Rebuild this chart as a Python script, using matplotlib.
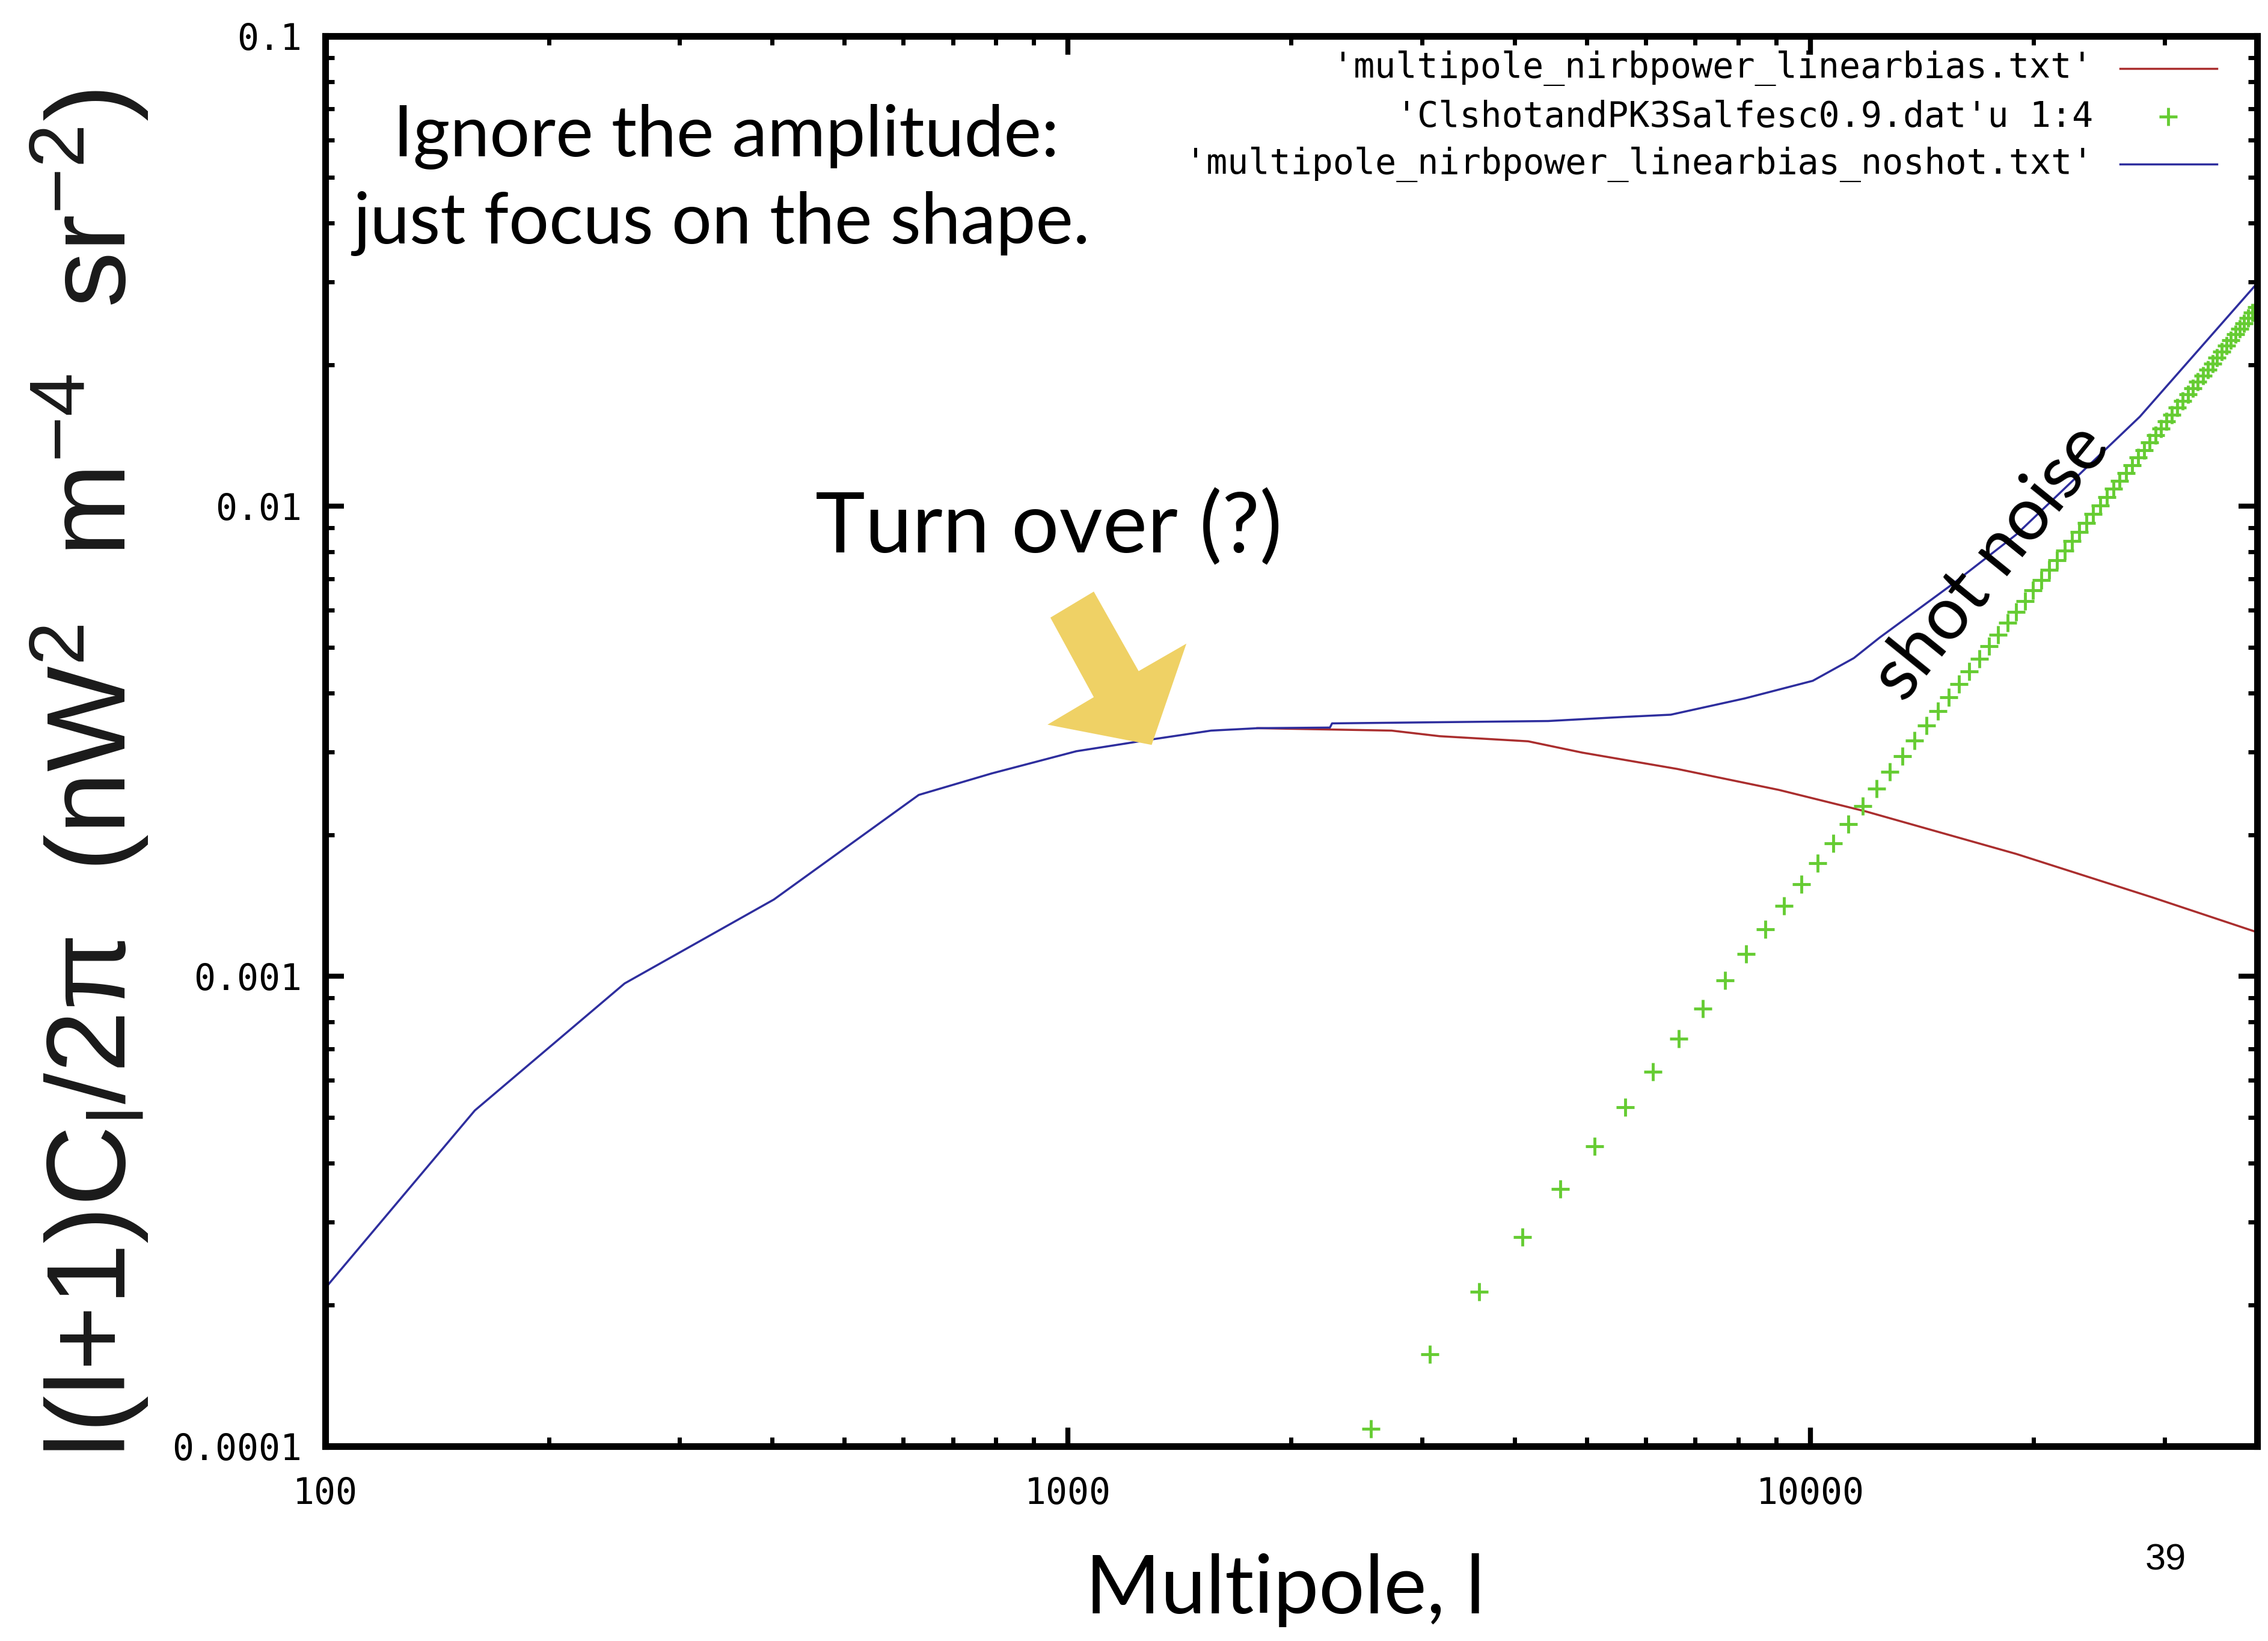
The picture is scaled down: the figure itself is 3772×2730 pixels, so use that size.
import matplotlib
matplotlib.use('Agg')
import matplotlib.pyplot as plt
from matplotlib import font_manager
from matplotlib.patches import Polygon
from matplotlib.lines import Line2D
from matplotlib.ticker import FixedLocator, FixedFormatter, NullFormatter, LogLocator

# 'multipole_nirbpower_linearbias_noshot.txt' (blue)
l_noshot = [100, 159, 253, 402, 630, 790, 1027, 1299, 1560, 1805, 2255, 2270,
            4437, 5600, 6490, 8170, 10080, 11450, 12400, 15500, 18950, 27800, 40000]
cl_noshot = [2.17e-4, 5.18e-4, 9.65e-4, 1.456e-3, 2.43e-3, 2.70e-3, 3.01e-3, 3.19e-3,
             3.33e-3, 3.37e-3, 3.38e-3, 3.45e-3, 3.49e-3, 3.56e-3, 3.60e-3, 3.90e-3,
             4.25e-3, 4.75e-3, 5.25e-3, 6.8e-3, 8.7e-3, 1.55e-2, 2.98e-2]

# 'multipole_nirbpower_linearbias.txt' (red)
l_lin = [1800, 2730, 3170, 4170, 4930, 6620, 9080, 11900, 18950, 28940, 40000]
cl_lin = [3.37e-3, 3.33e-3, 3.24e-3, 3.16e-3, 2.99e-3, 2.76e-3, 2.49e-3, 2.24e-3,
          1.82e-3, 1.47e-3, 1.24e-3]

# 'ClshotandPK3Salfesc0.9.dat'u 1:4 (green crosses)
l_shot = [2560, 3072, 3584, 4096, 4608, 5120, 5632, 6144, 6656, 7168, 7680, 8192,
          8704, 9216, 9728, 10240, 10752, 11264, 11776, 12288, 12800, 13312, 13824,
          14336, 14848, 15360, 15872, 16384, 16896, 17408, 17920, 18432, 18944, 19456,
          19968, 20480, 20992, 21504, 22016, 22528, 23040, 23552, 24064, 24576, 25088,
          25600, 26112, 26624, 27136, 27648, 28160, 28672, 29184, 29696, 30208, 30720,
          31232, 31744, 32256, 32768, 33280, 33792, 34304, 34816, 35328, 35840, 36352,
          36864, 37376, 37888, 38400, 38912, 39424, 39936]
cl_shot = [1.088e-4, 1.567e-4, 2.132e-4, 2.785e-4, 3.525e-4, 4.352e-4, 5.265e-4,
           6.266e-4, 7.354e-4, 8.529e-4, 9.791e-4, 1.114e-3, 1.258e-3, 1.410e-3,
           1.571e-3, 1.741e-3, 1.919e-3, 2.106e-3, 2.302e-3, 2.507e-3, 2.720e-3,
           2.942e-3, 3.172e-3, 3.412e-3, 3.660e-3, 3.916e-3, 4.182e-3, 4.456e-3,
           4.739e-3, 5.031e-3, 5.331e-3, 5.640e-3, 5.957e-3, 6.284e-3, 6.619e-3,
           6.963e-3, 7.315e-3, 7.676e-3, 8.046e-3, 8.425e-3, 8.812e-3, 9.208e-3,
           9.613e-3, 1.0026e-2, 1.0448e-2, 1.0879e-2, 1.1319e-2, 1.1767e-2, 1.2224e-2,
           1.2689e-2, 1.3164e-2, 1.3647e-2, 1.4138e-2, 1.4639e-2, 1.5148e-2, 1.5666e-2,
           1.6193e-2, 1.6728e-2, 1.7271e-2, 1.7824e-2, 1.8386e-2, 1.8956e-2, 1.9535e-2,
           2.0122e-2, 2.0718e-2, 2.1323e-2, 2.1937e-2, 2.2559e-2, 2.3190e-2, 2.3830e-2,
           2.4478e-2, 2.5135e-2, 2.5801e-2, 2.6475e-2]

x_ticks = [100, 1000, 10000]
x_ticklabels = ['100', '1000', '10000']
y_ticks = [1e-4, 1e-3, 1e-2, 1e-1]
y_ticklabels = ['0.0001', '0.001', '0.01', '0.1']

legend_labels = ["'multipole_nirbpower_linearbias.txt'",
                 "'ClshotandPK3Salfesc0.9.dat'u 1:4",
                 "'multipole_nirbpower_linearbias_noshot.txt'"]

RED = '#aa2e2e'
GREEN = '#66cc33'
BLUE = '#2e2e9e'
MONO = 'DejaVu Sans Mono'
SLIDE = 'Lato'

names = {f.name for f in font_manager.fontManager.ttflist}
if 'Liberation Sans Narrow' in names:
    ylab_font, ylab_size = 'Liberation Sans Narrow', 165
else:
    ylab_font, ylab_size = 'Liberation Sans', 134
plt.rcParams['mathtext.fontset'] = 'custom'
plt.rcParams['mathtext.rm'] = ylab_font
plt.rcParams['mathtext.it'] = ylab_font
plt.rcParams['mathtext.bf'] = ylab_font

W, H = 3773, 2730
fig = plt.figure(figsize=(W / 100, H / 100), dpi=100)
ax = fig.add_axes([541 / W, 1 - 2406 / H, (3754 - 541) / W, (2406 - 60) / H])

ax.plot(l_lin, cl_lin, color=RED, lw=2.5)
ax.plot(l_shot, cl_shot, ls='none', marker='+', ms=22, mew=3.5, color=GREEN)
ax.plot(l_noshot, cl_noshot, color=BLUE, lw=2.5)

ax.set_xscale('log')
ax.set_yscale('log')
ax.set_xlim(100, 40000)
ax.set_ylim(1e-4, 0.1)

ax.xaxis.set_major_locator(FixedLocator(x_ticks))
ax.xaxis.set_major_formatter(FixedFormatter(x_ticklabels))
ax.yaxis.set_major_locator(FixedLocator(y_ticks))
ax.yaxis.set_major_formatter(FixedFormatter(y_ticklabels))
ax.xaxis.set_minor_locator(LogLocator(base=10, subs=range(2, 10)))
ax.yaxis.set_minor_locator(LogLocator(base=10, subs=range(2, 10)))
ax.xaxis.set_minor_formatter(NullFormatter())
ax.yaxis.set_minor_formatter(NullFormatter())

ax.tick_params(which='both', direction='in', top=True, right=True)
ax.tick_params(which='major', length=22, width=6)
ax.tick_params(which='minor', length=11, width=5)
ax.tick_params(axis='x', which='major', pad=36)
ax.tick_params(axis='y', which='major', pad=28)
for lab in ax.get_xticklabels() + ax.get_yticklabels():
    lab.set_fontfamily(MONO)
    lab.set_fontsize(43)
for sp in ax.spines.values():
    sp.set_linewidth(8)

# gnuplot style key, right aligned text with the sample to the right
key_rows = [0.977, 0.943, 0.909]
for row, label in zip(key_rows, legend_labels):
    ax.text(0.915, row, label, transform=ax.transAxes, ha='right', va='center',
            family=MONO, fontsize=42)
ax.add_line(Line2D([0.929, 0.979], [key_rows[0]] * 2, transform=ax.transAxes, color=RED, lw=2.5))
ax.add_line(Line2D([0.954], [key_rows[1]], transform=ax.transAxes, ls='none', marker='+',
                   ms=22, mew=3.5, color=GREEN))
ax.add_line(Line2D([0.929, 0.979], [key_rows[2]] * 2, transform=ax.transAxes, color=BLUE, lw=2.5))

# slide annotations
fig.text(0.320, 1 - 228 / H, 'Ignore the amplitude:', ha='center', va='center',
         family=SLIDE, fontsize=85)
fig.text(0.318, 1 - 372 / H, 'just focus on the shape.', ha='center', va='center',
         family=SLIDE, fontsize=85)
fig.text(0.4624, 0.678, 'Turn over (?)', ha='center', va='center', family=SLIDE, fontsize=101)
fig.text(0.878, 0.657, 'shot noise', ha='center', va='center', family=SLIDE, fontsize=88,
         rotation=51, rotation_mode='anchor')
fig.text(0.5664, 0.031, 'Multipole, l', ha='center', va='center', family=SLIDE, fontsize=97)
fig.text(0.9547, 0.049, '39', ha='center', va='center', family='Liberation Sans', fontsize=44)
fig.text(0.0395, 0.5286,
         'l(l+1)C$_\\mathrm{l}$/2\u03c0  (nW$^\\mathrm{2}$  m$^\\mathrm{-4}$  sr$^\\mathrm{-2}$)',
         rotation=90, ha='center', va='center', family=ylab_font, fontsize=ylab_size,
         color='#1a1a1a')

# yellow block arrow pointing at the turn over
arrow_px = [(726, 427), (756, 409), (787, 464), (820, 445), (796, 515), (724, 501), (756, 482)]
s = W / 1568
arrow_fig = [(x * s / W, 1 - y * s / H) for x, y in arrow_px]
fig.patches.append(Polygon(arrow_fig, closed=True, transform=fig.transFigure,
                           facecolor='#efd165', edgecolor='none', zorder=5))

fig.savefig('out.png', dpi=100)
